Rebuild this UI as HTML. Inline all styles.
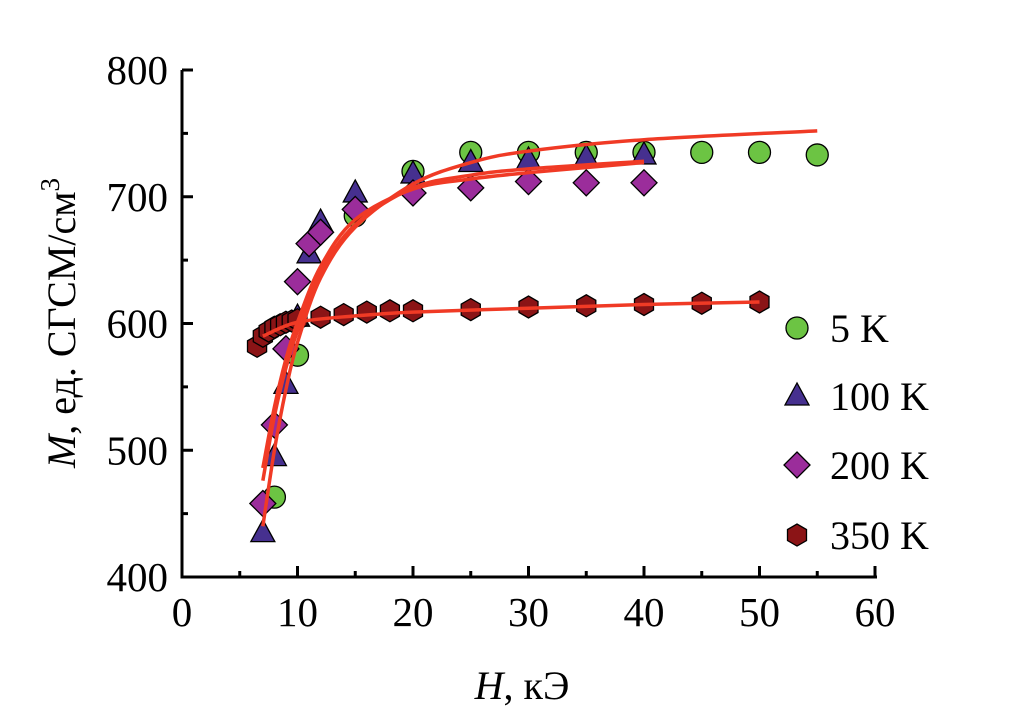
<!DOCTYPE html>
<html><head><meta charset="utf-8"><style>
body{margin:0;background:#fff;width:1010px;height:709px;overflow:hidden}
text{font-family:"Liberation Serif",serif;fill:#000}
</style></head><body>
<svg id="c" width="1010" height="709"></svg>
<script>
const xTicks=[0,10,20,30,40,50,60];
const yTicks=[400,500,600,700,800];
const h5=[8,10,15,20,25,30,35,40,45,50,55];
const m5=[463,575,685,720,735,735,735,735,735,735,733];
const h100=[7,8,9,10,11,12,15,20,25,30,35,40];
const m100=[435,495,552,605,655,680,703,718,727,729,731,733];
const h200=[7,8,9,10,11,12,15,20,25,30,35,40];
const m200=[458,520,580,633,663,672,690,703,707,712,711,711];
const h350=[6.5,7,7.5,8,8.5,9,9.5,10,12,14,16,18,20,25,30,35,40,45,50];
const m350=[582,590,594,597,599,601,602,603,605,607,609,610,610,611,613,614,615,616,617];
const fitHa=[7,8,9,10,12,15,20,25,30,40,55];
const fitMa=[440,500,548,585,636,676,710,727,736,745,752];
const fitHb=[7,8,9,10,12,15,20,25,30,40];
const fitMb=[476,527,565,594,640,678,707,717,722,728];
const fitHc=[7,8,9,10,12,15,20,25,30,40];
const fitMc=[486,534,572,601,645,682,706,714,719,727];
const fitHd=[7,10,15,20,30,40,50];
const fitMd=[590,601,606,609,612,615,617];

const X=h=>182+h*11.55, Y=m=>577-(m-400)*1.2675;
const svg=document.getElementById('c'), NS='http://www.w3.org/2000/svg';
function mk(t,a,p){const e=document.createElementNS(NS,t);for(const k in a)e.setAttribute(k,a[k]);(p||svg).appendChild(e);return e;}

const ax=mk('path',{d:'M182,70 V577 H877',fill:'none',stroke:'#000','stroke-width':3});


for(let v=0;v<=60;v+=5){const l=mk('line',{x1:X(v),x2:X(v),y1:577,y2:577-(v%10?6:11),stroke:'#000','stroke-width':3});

}
for(let v=400;v<=800;v+=50){const l=mk('line',{x1:182,x2:182+(v%100?6:11),y1:Y(v),y2:Y(v),stroke:'#000','stroke-width':3});

}
xTicks.forEach(v=>{const t=mk('text',{x:X(v),y:626,'font-size':41,'text-anchor':'middle'});t.textContent=v;

});
yTicks.forEach(v=>{const t=mk('text',{x:168,y:Y(v)+14,'font-size':41,'text-anchor':'end'});t.textContent=v;

});
const xt=mk('text',{x:522,y:699,'font-size':40,'text-anchor':'middle'});
xt.innerHTML='<tspan font-style="italic">H</tspan>, кЭ';


const yt=mk('text',{x:0,y:0,'font-size':40,'text-anchor':'middle',transform:'translate(75,323) rotate(-90)'});
yt.innerHTML='<tspan font-style="italic">M</tspan>, ед. СГСМ/см<tspan dy="-16" font-size="27">3</tspan>';



function marker(type,cx,cy,g){
 const st={stroke:'#000','stroke-width':1.3};
 if(type==='c')return mk('circle',Object.assign({cx,cy,r:11,fill:'#6cc443'},st),g);
 if(type==='t')return mk('polygon',Object.assign({points:`${cx},${cy-13} ${cx-12},${cy+9} ${cx+12},${cy+9}`,fill:'#46308f'},st),g);
 if(type==='d')return mk('polygon',Object.assign({points:`${cx},${cy-13} ${cx+13},${cy} ${cx},${cy+13} ${cx-13},${cy}`,fill:'#9b2d9b'},st),g);
 const p=[];for(let i=0;i<6;i++){const a=Math.PI/6+i*Math.PI/3;p.push((cx+11*Math.cos(a)).toFixed(1)+','+(cy+11*Math.sin(a)).toFixed(1));}
 return mk('polygon',Object.assign({points:p.join(' '),fill:'#8b1416'},st),g);
}
function series(name,type,hs,ms){const g=mk('g',{});
 
 
 hs.forEach((h,i)=>{const m=marker(type,X(h),Y(ms[i]),g);
 
 });}
series('series-5k','c',h5,m5);
series('series-100k','t',h100,m100);
series('series-200k','d',h200,m200);
series('series-350k','h',h350,m350);

function fit(name,hs,ms){const P=hs.map((h,i)=>[X(h),Y(ms[i])]);let d='M'+P[0];
 for(let i=0;i<P.length-1;i++){const p0=P[i-1]||P[i],p1=P[i],p2=P[i+1],p3=P[i+2]||P[i+1];
  d+=` C${p1[0]+(p2[0]-p0[0])/6},${p1[1]+(p2[1]-p0[1])/6} ${p2[0]-(p3[0]-p1[0])/6},${p2[1]-(p3[1]-p1[1])/6} ${p2[0]},${p2[1]}`;}
 const e=mk('path',{d,fill:'none',stroke:'#f03a25','stroke-width':3.5});
 
 }
fit('fit-5k',fitHa,fitMa);fit('fit-100k',fitHb,fitMb);fit('fit-200k',fitHc,fitMc);fit('fit-350k',fitHd,fitMd);

[['c','5 K',328],['t','100 K',396],['d','200 K',465],['h','350 K',535]].forEach(([t,l,y])=>{
 const g=mk('g',{});
 
 
 marker(t,797,y,g);
 const tx=mk('text',{x:830,y:y+14,'font-size':40},g);tx.textContent=l;});
</script>
</body></html>
